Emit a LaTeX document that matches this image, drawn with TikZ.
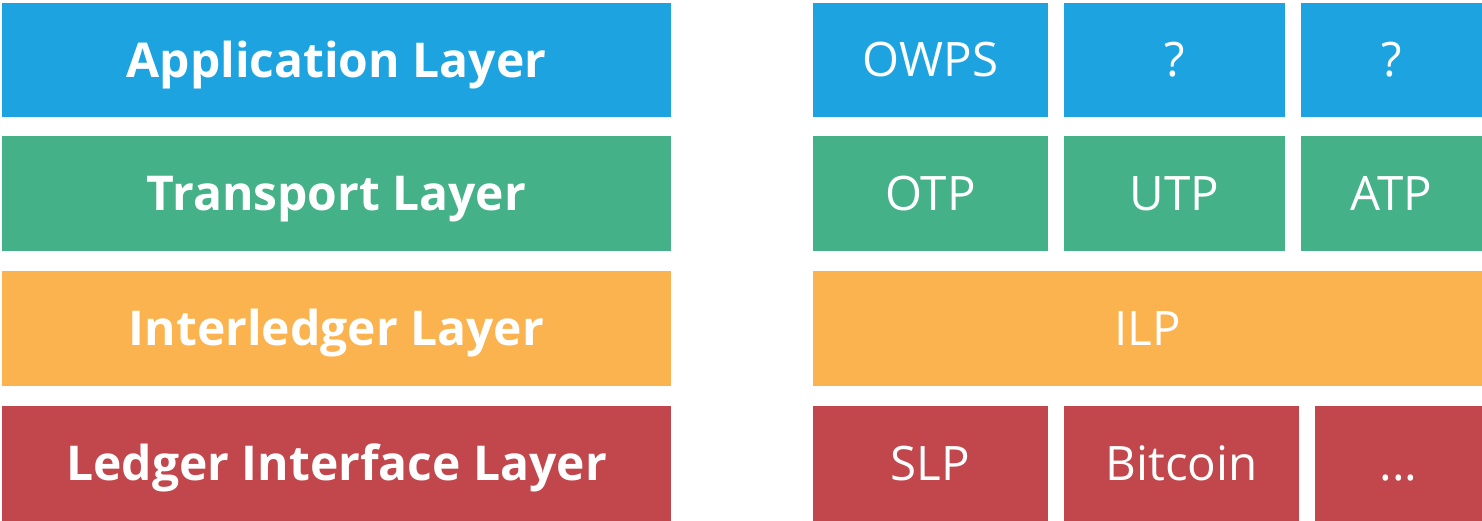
\documentclass[tikz,border=0pt]{standalone}
\usepackage{fontspec}
\setmainfont{Open Sans}
\definecolor{appblue}{RGB}{29,164,224}
\definecolor{transgreen}{RGB}{69,177,136}
\definecolor{ilporange}{RGB}{251,179,79}
\definecolor{ledgerred}{RGB}{193,71,76}
\tikzset{
  block/.style={inner sep=0pt, outer sep=0pt, text=white, align=center},
  layername/.style={block, minimum width=669pt, font=\fontsize{48}{52}\selectfont\bfseries, text height=34.3pt, text depth=0pt},
  proto/.style={block, font=\fontsize{47.5}{52}\selectfont, text height=33.9pt, text depth=0pt},
  row1/.style={minimum height=114pt, fill=appblue},
  row2/.style={minimum height=115pt, fill=transgreen},
  row3/.style={minimum height=115pt, fill=ilporange},
  row4/.style={minimum height=115pt, fill=ledgerred},
}
\begin{document}
\begin{tikzpicture}[x=1pt,y=-1pt]
\useasboundingbox (0,0) rectangle (1482,521);
% layer names
\node[layername,row1] (app)   at (336.5,60)    {Application Layer};
\node[layername,row2] (trans) at (336.5,193.5) {Transport Layer};
\node[layername,row3] (inter) at (336.5,328.5) {Interledger Layer};
\node[layername,row4] (ledg)  at (336.5,463.5) {Ledger Interface Layer};
% application protocols
\node[proto,row1,minimum width=235pt] (owps) at (930.5,60)  {OWPS};
\node[proto,row1,minimum width=221pt] (qa)   at (1174.5,60) {?};
\node[proto,row1,minimum width=181pt] (qb)   at (1391.5,60) {?};
% transport protocols
\node[proto,row2,minimum width=235pt] (otp) at (930.5,193.5)  {OTP};
\node[proto,row2,minimum width=221pt] (utp) at (1174.5,193.5) {UTP};
\node[proto,row2,minimum width=181pt] (atp) at (1391.5,193.5) {ATP};
% interledger protocol
\node[proto,row3,minimum width=669pt] (ilp) at (1147.5,328.5) {ILP};
% ledger plugins
\node[proto,row4,minimum width=235pt] (slp) at (930.5,463.5)  {SLP};
\node[proto,row4,minimum width=235pt] (btc) at (1181.5,463.5) {Bitcoin};
\node[proto,row4,minimum width=167pt] (etc) at (1398.5,463.5) {...};
\end{tikzpicture}
\end{document}
